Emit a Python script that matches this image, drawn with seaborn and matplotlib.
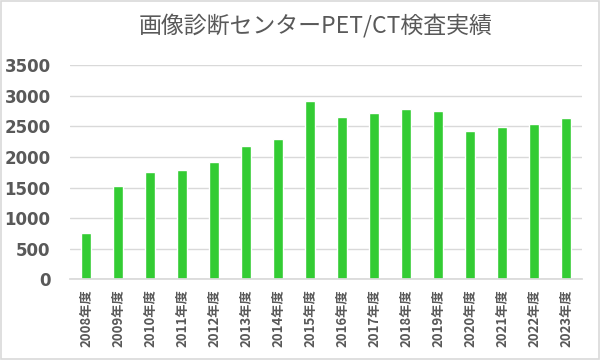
import matplotlib
matplotlib.use("Agg")
import matplotlib.pyplot as plt
import seaborn as sns
import pandas as pd
from matplotlib.patches import Rectangle

# データ
years = ["2008年度", "2009年度", "2010年度", "2011年度", "2012年度", "2013年度",
         "2014年度", "2015年度", "2016年度", "2017年度", "2018年度", "2019年度",
         "2020年度", "2021年度", "2022年度", "2023年度"]
counts = [762, 1528, 1755, 1790, 1920, 2182, 2300, 2920, 2662, 2727, 2787, 2755,
          2427, 2499, 2532, 2640]
yticks = [0, 500, 1000, 1500, 2000, 2500, 3000, 3500]

df = pd.DataFrame({"year": years, "count": counts})

sns.set_theme(style="white")
plt.rcParams["font.family"] = ["Noto Sans CJK JP", "DejaVu Sans"]

fig = plt.figure(figsize=(6.01, 3.6), dpi=100)
ax = fig.add_axes([70 / 601, (360 - 279.3) / 360, 512 / 601, 214 / 360])

sns.barplot(data=df, x="year", y="count", color="#33CC33", width=0.33,
            saturation=1, ax=ax)

ax.set_ylim(0, 3500)
ax.set_xlim(-0.5, len(years) - 0.5)
ax.set_yticks(yticks)
ax.set_yticklabels([str(v) for v in yticks], fontsize=12, fontweight="bold",
                   color="#595959", family=["DejaVu Sans"])
ax.tick_params(axis="y", length=0, pad=14)
ax.tick_params(axis="x", length=0, pad=7)
for lab in ax.get_xticklabels():
    lab.set_rotation(90)
    lab.set_fontsize(9.5)
    lab.set_fontweight("bold")
    lab.set_color("#595959")
ax.set_xlabel("")
ax.set_ylabel("")
ax.yaxis.grid(True, color="#D9D9D9", linewidth=1)
ax.set_axisbelow(True)
for s in ["left", "right", "top"]:
    ax.spines[s].set_visible(False)
ax.spines["bottom"].set_color("#D9D9D9")

fig.text(316 / 601, 1 - 26 / 360, "画像診断センターPET/CT検査実績", ha="center", va="center",
         fontsize=16.5, color="#595959")

fig.patches.append(Rectangle((0.002, 0.003), 0.995, 0.994, transform=fig.transFigure,
                             fill=False, edgecolor="#D9D9D9", linewidth=1.2))

fig.savefig("out.png", dpi=100)
